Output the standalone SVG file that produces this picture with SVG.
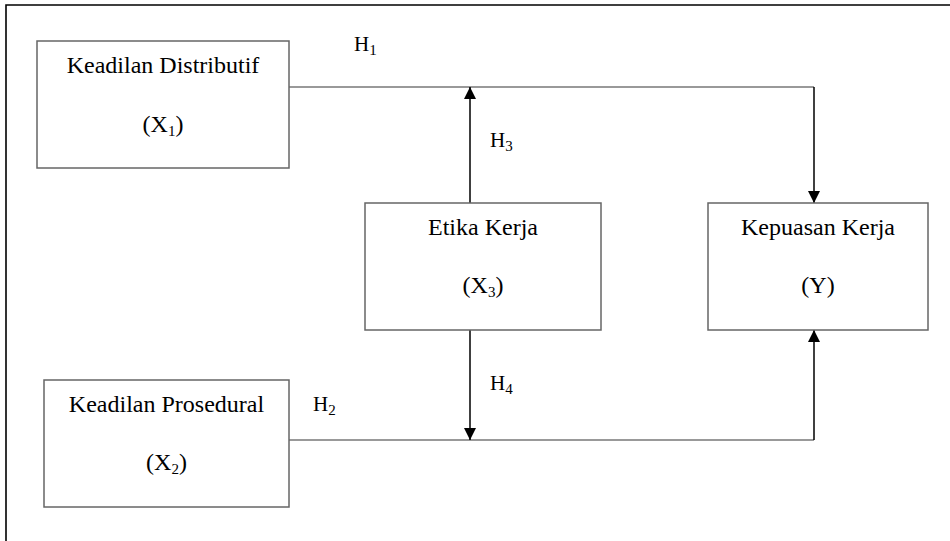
<svg xmlns="http://www.w3.org/2000/svg" width="950" height="541" viewBox="0 0 950 541">
<defs>
<style>
.box{fill:#fff;stroke:#666;stroke-width:1.5}
.t{font-family:"Liberation Serif","Times New Roman",serif;font-size:24px;fill:#000;text-anchor:middle}
.h{font-family:"Liberation Serif","Times New Roman",serif;font-size:21px;fill:#000}
.sub{font-size:15px}
.hl{fill:none;stroke:#777;stroke-width:1.5}
.vl{fill:none;stroke:#000;stroke-width:1.5}
</style>
<marker id="ah" viewBox="0 0 12 12" refX="12" refY="6" markerWidth="12" markerHeight="12" markerUnits="userSpaceOnUse" orient="auto">
<path d="M0,0 L12,6 L0,12 Z" fill="#000"/>
</marker>
</defs>
<rect width="950" height="541" fill="#fff"/>
<path d="M6,541 V5 H950" fill="none" stroke="#000" stroke-width="1.6"/>
<g id="connectors">
<path class="hl" d="M289,87 H814"/>
<path class="vl" d="M814,87 V203" marker-end="url(#ah)"/>
<path class="vl" d="M470,203 V87" marker-end="url(#ah)"/>
<path class="hl" d="M289,440 H814"/>
<path class="vl" d="M814,440 V330" marker-end="url(#ah)"/>
<path class="vl" d="M470,330 V440" marker-end="url(#ah)"/>
<text class="h" x="354" y="51">H<tspan class="sub" dy="4">1</tspan></text>
<text class="h" x="490" y="147">H<tspan class="sub" dy="4">3</tspan></text>
<text class="h" x="313" y="411">H<tspan class="sub" dy="4">2</tspan></text>
<text class="h" x="490" y="390">H<tspan class="sub" dy="4">4</tspan></text>
</g>
<g id="x1">
<rect class="box" x="37" y="41" width="252" height="127"/>
<text class="t" x="163" y="73">Keadilan Distributif</text>
<text class="t" x="163" y="132">(X<tspan class="sub" dy="4">1</tspan><tspan dy="-4">)</tspan></text>
</g>
<g id="x3">
<rect class="box" x="365" y="203" width="236" height="127"/>
<text class="t" x="483" y="235">Etika Kerja</text>
<text class="t" x="483" y="293">(X<tspan class="sub" dy="4">3</tspan><tspan dy="-4">)</tspan></text>
</g>
<g id="y">
<rect class="box" x="708" y="203" width="220" height="127"/>
<text class="t" x="818" y="235">Kepuasan Kerja</text>
<text class="t" x="818" y="293">(Y)</text>
</g>
<g id="x2">
<rect class="box" x="44" y="380" width="245" height="127"/>
<text class="t" x="166.5" y="412">Keadilan Prosedural</text>
<text class="t" x="166.5" y="470">(X<tspan class="sub" dy="4">2</tspan><tspan dy="-4">)</tspan></text>
</g>
</svg>
